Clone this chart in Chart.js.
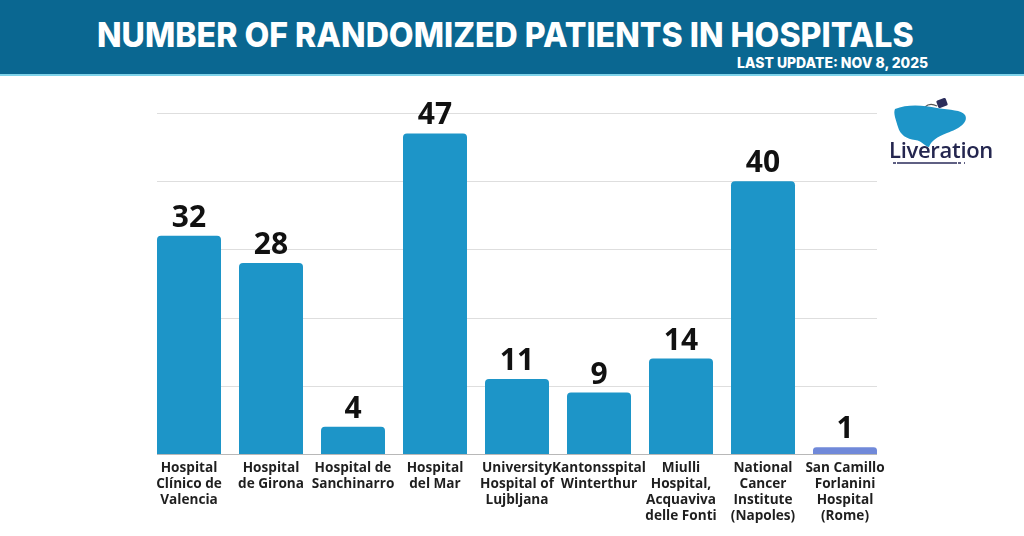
<!DOCTYPE html>
<html>
<head>
<meta charset="utf-8">
<script src="https://cdn.jsdelivr.net/npm/chart.js@4.4.1/dist/chart.umd.min.js"></script>
<style>
  html, body { margin:0; padding:0; background:#ffffff; width:1024px; height:536px; overflow:hidden; }
  #header { position:absolute; left:0; top:0; width:1024px; height:74px; background:#0a6791; border-bottom:2px solid #7fd3ea; }
  #title { position:absolute; left:0; top:15px; white-space:nowrap; color:#ffffff; font-family:Inter, "Open Sans", sans-serif; font-weight:800; font-size:34px; line-height:40px; transform-origin:0 0; }
  #update { position:absolute; top:54px; white-space:nowrap; color:#ffffff; font-family:Inter, "Open Sans", sans-serif; font-weight:800; font-size:14.5px; line-height:18px; transform-origin:0 0; }
  #wrap { position:absolute; left:0; top:0; width:1024px; height:536px; }
  #logo { position:absolute; left:885px; top:95px; width:110px; height:75px; }
  #logoText { position:absolute; left:889px; top:135px; font-family:"Open Sans", sans-serif; font-weight:600; font-size:22px; color:#24264f; letter-spacing:-0.3px; line-height:28px; }
</style>
</head>
<body>
<div id="wrap"><canvas id="c" width="1024" height="536"></canvas></div>
<div id="header">
  <div id="title">NUMBER OF RANDOMIZED PATIENTS IN HOSPITALS</div>
  <div id="update">LAST UPDATE: NOV 8, 2025</div>
</div>
<svg id="logo" viewBox="0 0 110 75" xmlns="http://www.w3.org/2000/svg">
  <path d="M40 12 C44 8 48 9 52 11" stroke="#555" stroke-width="1.2" fill="none"/>
  <rect x="52" y="4" width="10" height="8" rx="1.5" fill="#2b2d5b" transform="rotate(-20 57 8)"/>
  <path d="M10 14 C22 9 38 10 52 13 C66 15 76 15 80 20 C84 27 74 34 62 38 C52 42 46 46 44 52 C40 52 38 46 30 45 C22 44 15 40 13 32 C11 25 8 18 10 14 Z" fill="#1d95c8"/>
  <line x1="8" y1="68" x2="102" y2="68" stroke="#2b2d5b" stroke-width="1.5" stroke-dasharray="3 1 60 1 3"/>
</svg>
<div id="logoText">Liveration</div>
<script>
const categories = [
  ["Hospital","Clínico de","Valencia"],
  ["Hospital","de Girona"],
  ["Hospital de","Sanchinarro"],
  ["Hospital","del Mar"],
  ["University","Hospital of","Lujbljana"],
  ["Kantonsspital","Winterthur"],
  ["Miulli","Hospital,","Acquaviva","delle Fonti"],
  ["National","Cancer","Institute","(Napoles)"],
  ["San Camillo","Forlanini","Hospital","(Rome)"]
];
const patients = [32, 28, 4, 47, 11, 9, 14, 40, 1];
const gridValues = [10, 20, 30, 40, 50];
const barColors = ["#1d95c8","#1d95c8","#1d95c8","#1d95c8","#1d95c8","#1d95c8","#1d95c8","#1d95c8","#7089d9"];

// fit header texts
(function(){
  const t = document.getElementById('title');
  const w = t.scrollWidth;
  t.style.transform = 'scaleX(' + (817 / w) + ')';
  t.style.left = '97px';
  const u = document.getElementById('update');
  const uw = u.scrollWidth;
  u.style.transform = 'scaleX(' + (191 / uw) + ')';
  u.style.left = '737px';
})();

const gridPlugin = {
  id: 'customGrid',
  beforeDatasetsDraw(chart) {
    const ctx = chart.ctx, y = chart.scales.y, a = chart.chartArea;
    ctx.save();
    ctx.lineWidth = 1;
    ctx.strokeStyle = '#dedede';
    gridValues.forEach(v => {
      const py = Math.round(y.getPixelForValue(v)) + 0.5;
      ctx.beginPath(); ctx.moveTo(a.left + 9, py); ctx.lineTo(a.right - 9, py); ctx.stroke();
    });
    ctx.strokeStyle = '#b8b8b8';
    const p0 = Math.round(y.getPixelForValue(0)) + 0.5;
    ctx.beginPath(); ctx.moveTo(a.left + 9, p0); ctx.lineTo(a.right - 9, p0); ctx.stroke();
    ctx.restore();
  }
};
const valuePlugin = {
  id: 'values',
  afterDatasetsDraw(chart) {
    const ctx = chart.ctx;
    const meta = chart.getDatasetMeta(0);
    ctx.save();
    ctx.fillStyle = '#111111';
    ctx.font = 'bold 30px "Open Sans", sans-serif';
    ctx.textAlign = 'center';
    ctx.textBaseline = 'alphabetic';
    meta.data.forEach((bar, i) => {
      ctx.fillText(String(patients[i]), bar.x, bar.y - 9);
    });
    ctx.restore();
  }
};

new Chart(document.getElementById('c'), {
  type: 'bar',
  data: {
    labels: categories,
    datasets: [{
      data: patients,
      backgroundColor: barColors,
      borderRadius: { topLeft: 4, topRight: 4, bottomLeft: 0, bottomRight: 0 },
      borderSkipped: 'bottom',
      barPercentage: 1,
      categoryPercentage: 64/82
    }]
  },
  options: {
    responsive: false,
    animation: false,
    devicePixelRatio: 1,
    layout: { padding: { left: 148, right: 138, top: 113, bottom: 0 } },
    plugins: { legend: { display: false }, tooltip: { enabled: false } },
    scales: {
      y: { display: false, min: 0, max: 50 },
      x: {
        grid: { display: false, drawTicks: false },
        border: { display: false },
        ticks: {
          autoSkip: false, maxRotation: 0, minRotation: 0, padding: 6,
          color: '#1f1f1f',
          font: { family: '"Open Sans", sans-serif', weight: 'bold', size: 13.6, lineHeight: 1.18 }
        },
        afterFit(scale) { scale.height = 82; }
      }
    }
  },
  plugins: [gridPlugin, valuePlugin]
});
</script>
</body>
</html>
